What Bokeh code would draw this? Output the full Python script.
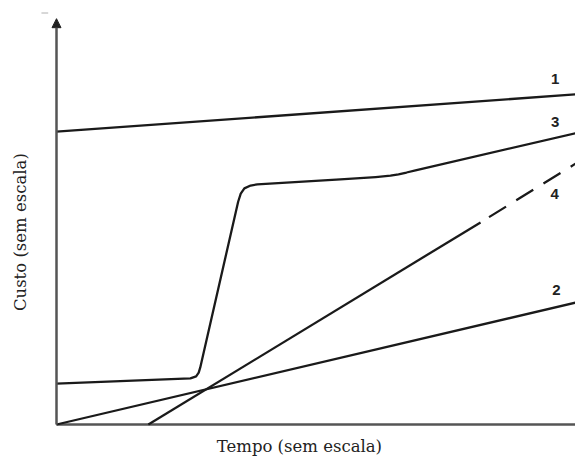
import math
from bokeh.plotting import figure
from bokeh.models import Range1d, Arrow, NormalHead
from bokeh.core.properties import value
from bokeh.embed import file_html
from bokeh.resources import INLINE

# ---- data (abstract units: time 0..100, cost 0..100, "sem escala") ----
line1_x = [0, 100]
line1_y = [72.3, 81.5]

line2_x = [0, 100]
line2_y = [0.0, 30.1]

line3_x = [0.0, 25.8, 26.9, 27.4, 27.7, 35.0, 35.5, 36.2, 37.4, 38.7,
           54.7, 61.5, 64.35, 65.9, 67.44, 69.17, 100.0]
line3_y = [10.1, 11.4, 11.9, 12.8, 14.1, 55.0, 57.0, 58.3, 59.0, 59.3,
           60.5, 61.1, 61.43, 61.78, 62.22, 62.77, 71.9]

line4_solid_x = [17.7, 81.7]
line4_solid_y = [0.0, 49.9]
line4_dash_x = [81.7, 100.0]
line4_dash_y = [49.9, 64.4]

series_labels = ["1", "3", "4", "2"]
series_label_x = [96.1, 96.1, 96.0, 96.3]
series_label_y = [85.4, 74.6, 56.8, 33.3]

x_title = "Tempo (sem escala)"
y_title = "Custo (sem escala)"

# ---- figure ----
p = figure(width=575, height=457, output_backend="svg", toolbar_location=None,
           x_range=Range1d(-10.79, 100.0), y_range=Range1d(-8.148, 104.69),
           min_border=0, min_border_left=0, min_border_right=0,
           min_border_top=0, min_border_bottom=0)
p.axis.visible = False
p.grid.visible = False
p.outline_line_color = None
p.background_fill_color = "white"
p.border_fill_color = "white"

axis_col = "#555555"
ink = "#1a1a1a"

# axes (drawn as lines, no scale)
p.line([0, 100], [0, 0], line_color=axis_col, line_width=2.5)
p.add_layout(Arrow(end=NormalHead(size=9, fill_color="#222222", line_color="#222222", line_width=1),
                   x_start=0, y_start=0, x_end=0, y_end=100.2,
                   line_color=axis_col, line_width=2.5))
# small stray mark at top-left of the original
p.line([-2.9, -1.6], [101.6, 101.6], line_color="#b0b0b0", line_width=1)

lw = 2.3
p.line(line1_x, line1_y, line_color=ink, line_width=lw)
p.line(line2_x, line2_y, line_color=ink, line_width=lw)
p.line(line3_x, line3_y, line_color=ink, line_width=lw, line_join="round")
p.line(line4_solid_x, line4_solid_y, line_color=ink, line_width=lw)
p.line(line4_dash_x, line4_dash_y, line_color=ink, line_width=lw,
       line_dash="20 12", line_dash_offset=22)

p.text(x=series_label_x, y=series_label_y, text=series_labels,
       text_font=value("Liberation Sans"), text_font_style="bold",
       text_font_size="15px", text_color="#222222",
       text_align="center", text_baseline="middle")

p.text(x=[46.8], y=[-5.5], text=[x_title], text_font=value("DejaVu Serif"),
       text_font_size="16.5px", text_color="#222222",
       text_align="center", text_baseline="middle")
p.text(x=[-7.0], y=[47.5], text=[y_title], text_font=value("DejaVu Serif"),
       text_font_size="16.5px", text_color="#222222", angle=math.pi / 2,
       text_align="center", text_baseline="middle")

open("out.html", "w").write(file_html(p, INLINE))
